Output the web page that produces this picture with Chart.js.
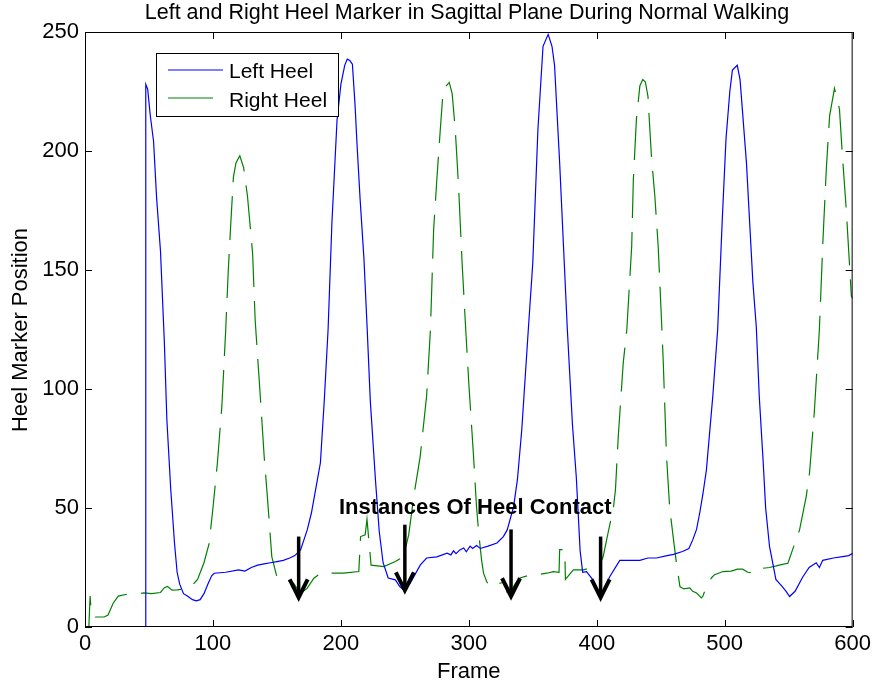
<!DOCTYPE html>
<html>
<head>
<meta charset="utf-8">
<title>Heel Marker</title>
<script src="https://cdn.jsdelivr.net/npm/chart.js@4.4.1/dist/chart.umd.min.js"></script>
<style>
  body { margin: 0; background: #fff; }
  #wrap { width: 875px; height: 687px; }
</style>
</head>
<body>
<div id="wrap"><canvas id="heelChart" width="875" height="687"></canvas></div>
<script>
// Heel marker data (frame, position)
const leftFrames = [0, 47, 47.5, 49, 51, 53.6, 56, 59, 62, 64, 67, 70, 72, 74, 77, 80, 84, 87, 90, 93, 96, 99, 101, 110, 120, 125, 130, 135, 140, 145, 150, 155, 160, 164, 168.5, 173.7, 177, 180, 184, 187, 190, 193, 197, 200, 203, 205, 207, 209, 211, 212.7, 215, 218, 220.5, 223, 227, 230, 233, 237, 242.6, 246, 249, 251, 255.6, 262, 267, 275, 283, 286, 288, 290, 293, 296, 298, 301, 303, 306, 309, 315, 322, 327, 330, 335, 338, 341.4, 346.5, 350, 354, 358, 362, 365, 367, 371, 374, 377, 381, 384, 387, 389, 392, 397, 402.5, 405, 410, 418, 425, 433.7, 440, 446.7, 455, 460, 467, 472, 475, 478, 480.5, 483, 485.7, 490.7, 494.5, 498, 501, 504, 506, 509.8, 512, 514, 517, 519.5, 522, 524.7, 527, 530, 532, 535, 540, 545, 548, 550.7, 555, 561, 566, 571.5, 574, 576.6, 585, 592, 597, 600];
const leftHeel = [0, 0, 228, 226, 215, 204, 180, 158, 120, 87, 58, 35, 23, 18, 14, 13, 11.5, 11, 11.5, 14, 18, 21.5, 22.6, 23, 24, 23.5, 25, 26, 26.5, 27, 27.5, 28, 29, 30, 32.4, 40.8, 48, 57, 69, 95, 125, 170, 213, 228, 236, 238.6, 238, 236.5, 220, 202, 180, 155, 126, 95, 62, 40, 27, 20.6, 19.8, 17, 15.6, 15.6, 19.8, 26, 29, 29.5, 31, 30.3, 32, 30.8, 32.4, 33.2, 31.6, 34, 33, 34.2, 33, 34, 35.3, 38, 40.8, 50.6, 62, 83, 125, 153, 209, 244, 249, 244, 236, 195, 160, 125, 85, 63, 32, 23, 23.3, 19.8, 12.8, 15, 21, 28, 28, 28, 29, 29, 30, 30.5, 31.7, 33, 36.6, 41, 48, 56, 66, 97, 125, 170, 205, 225, 234, 236, 230, 216, 195, 170, 145, 126, 97, 70, 50, 34, 20, 17, 15, 12.8, 15, 21, 25, 27, 25, 28, 29, 29.6, 30, 31];

const rightFrames = [0, 3, 4, 5, 8, 15, 18, 22, 26, 33, 40, 46, 52, 59, 62, 64.5, 68, 72, 78, 84, 88, 93, 97, 100, 103.5, 107, 110, 112, 114, 116, 118, 121, 124, 127, 131, 133, 137, 140, 142.5, 146, 150, 153, 158, 163, 168.5, 173.7, 178.9, 184, 202, 214, 215.4, 219, 220.4, 223.6, 233.5, 242.6, 249, 253, 257, 262, 267, 270, 272.5, 275, 277.7, 280, 284.7, 287, 289.4, 292, 294.6, 297, 299.8, 303.7, 306, 308, 310, 311.5, 314, 316.7, 320, 324.5, 328, 330, 333, 336, 340, 348, 353, 361, 366, 370.5, 371, 375, 375.5, 381.7, 389.5, 394.7, 400, 403.8, 405, 409, 413, 414.6, 416.8, 420.7, 423.5, 427.3, 428.6, 431, 433.7, 436, 438, 440, 442.7, 445.4, 448, 450.6, 452, 454.5, 457, 459.7, 462, 465, 468, 472.7, 475, 478, 481.8, 483, 485.7, 489.6, 492, 498.7, 505, 510, 514, 518, 524.7, 528, 530, 535, 540.4, 545, 549.4, 553, 558.5, 563.7, 566.3, 570, 574, 576.7, 579.4, 582, 585.8, 589.7, 592, 595, 599, 600];
const rightHeel = [0, 0, 13, 5, 4.2, 4.2, 5, 10, 13, 13.8, 14, 14.3, 14, 14.5, 16.5, 17, 15.5, 15.6, 16, 17.7, 20, 27, 35, 50, 69, 93, 125, 150, 170, 189, 195, 198, 193, 181, 157, 129, 97, 72, 55, 29.6, 21, 19.8, 19.5, 18.4, 14, 16.3, 20.5, 22.6, 22.6, 23.3, 38, 38.7, 45.3, 26, 25.4, 27.5, 29.6, 38.7, 55, 71.7, 97, 125, 167, 188, 209, 226, 228.8, 224, 209, 185, 154.5, 130.6, 104, 71.7, 50.6, 38, 28, 22.6, 19, 17, 18, 18.4, 19, 14.5, 15, 18, 20.6, 21.9, 21.9, 22.6, 23.3, 23, 32.5, 32.5, 20, 24, 24, 24.8, 26, 28, 29.6, 40, 50, 57.6, 80, 111, 125, 160, 188, 213.4, 227.4, 230, 229, 223, 198, 181, 160, 129, 111, 72, 50, 38, 28, 17, 16, 16.4, 15, 14.3, 12.2, 13, 17, 20.6, 22, 23.3, 23.5, 24.3, 24.3, 23, 22.6, 24, 24.7, 25, 25.7, 26.3, 26.8, 32.4, 40.8, 54.8, 64.7, 90, 125, 161.5, 192.3, 214.8, 226.3, 217.6, 198, 175.5, 139, 138];

const xTicks = [0, 100, 200, 300, 400, 500, 600];
const yTicks = [0, 50, 100, 150, 200, 250];

// heel contact arrows: frame, tail value, tip value
const contactFrames = [167, 250, 333, 403];
const contactTail = [38, 43, 41, 38];
const contactTip = [12, 15, 12.5, 12];

const FONT = '"Liberation Sans", Arial, Helvetica, sans-serif';

function toPoints(xs, ys) {
    return xs.map(function (x, i) { return { x: x, y: ys[i] }; });
}

// draws the matlab-ish box, inward ticks, texts, legend and arrows
const matlabDecor = {
    id: 'matlabDecor',
    afterDraw: function (chart) {
        const ctx = chart.ctx;
        const area = chart.chartArea;
        const xs = chart.scales.x;
        const ys = chart.scales.y;
        ctx.save();

        // box
        ctx.strokeStyle = '#000';
        ctx.lineWidth = 1;
        ctx.strokeRect(area.left + 0.5, area.top + 0.5, area.right - area.left - 1, area.bottom - area.top - 1);

        // inward ticks on all four sides
        const tl = 7;
        ctx.beginPath();
        xTicks.forEach(function (v) {
            const px = Math.round(xs.getPixelForValue(v)) + 0.5;
            ctx.moveTo(px, area.bottom); ctx.lineTo(px, area.bottom - tl);
            ctx.moveTo(px, area.top); ctx.lineTo(px, area.top + tl);
        });
        yTicks.forEach(function (v) {
            const py = Math.round(ys.getPixelForValue(v)) + 0.5;
            ctx.moveTo(area.left, py); ctx.lineTo(area.left + tl, py);
            ctx.moveTo(area.right, py); ctx.lineTo(area.right - tl, py);
        });
        ctx.stroke();

        // title and axis titles
        ctx.fillStyle = '#000';
        ctx.textAlign = 'center';
        ctx.textBaseline = 'middle';
        ctx.font = '21.5px ' + FONT;
        ctx.fillText('Left and Right Heel Marker in Sagittal Plane During Normal Walking', 467, 13);
        ctx.font = '22px ' + FONT;
        ctx.fillText('Frame', (area.left + area.right) / 2, 672);
        ctx.save();
        ctx.translate(21, 330);
        ctx.rotate(-Math.PI / 2);
        ctx.fillText('Heel Marker Position', 0, 0);
        ctx.restore();

        // annotation
        ctx.font = 'bold 22px ' + FONT;
        ctx.fillText('Instances Of Heel Contact', xs.getPixelForValue(305), ys.getPixelForValue(50));

        // arrows
        ctx.strokeStyle = '#000';
        ctx.lineWidth = 3.5;
        ctx.lineCap = 'butt';
        contactFrames.forEach(function (f, i) {
            const px = xs.getPixelForValue(f);
            const top = ys.getPixelForValue(contactTail[i]);
            const tip = ys.getPixelForValue(contactTip[i]);
            ctx.beginPath();
            ctx.moveTo(px, top);
            ctx.lineTo(px, tip - 2);
            ctx.stroke();
            ctx.lineWidth = 4;
            ctx.beginPath();
            ctx.moveTo(px - 9, tip - 19);
            ctx.lineTo(px, tip - 1);
            ctx.lineTo(px + 9, tip - 19);
            ctx.stroke();
            ctx.lineWidth = 3.5;
        });

        // legend
        ctx.lineWidth = 1;
        ctx.fillStyle = '#fff';
        ctx.fillRect(156, 53, 183, 64);
        ctx.strokeStyle = '#000';
        ctx.strokeRect(156.5, 53.5, 182, 63);
        ctx.lineWidth = 1.2;
        ctx.strokeStyle = '#0000ff';
        ctx.beginPath(); ctx.moveTo(168, 70); ctx.lineTo(223, 70); ctx.stroke();
        ctx.strokeStyle = '#008000';
        ctx.setLineDash([45, 14]);
        ctx.beginPath(); ctx.moveTo(168, 98); ctx.lineTo(223, 98); ctx.stroke();
        ctx.setLineDash([]);
        ctx.fillStyle = '#000';
        ctx.textAlign = 'left';
        ctx.font = '21px ' + FONT;
        ctx.fillText('Left Heel', 229, 72);
        ctx.fillText('Right Heel', 229, 101);

        ctx.restore();
    }
};

window.onload = function () {
    const ctxHeel = document.getElementById('heelChart').getContext('2d');
    const heelChart = new Chart(ctxHeel, {
        type: 'line',
        data: {
            datasets: [
                {
                    label: 'Left Heel',
                    data: toPoints(leftFrames, leftHeel),
                    borderColor: '#0000ff',
                    borderWidth: 1.2,
                    pointRadius: 0,
                    tension: 0,
                    fill: false
                },
                {
                    label: 'Right Heel',
                    data: toPoints(rightFrames, rightHeel),
                    borderColor: '#008000',
                    borderWidth: 1.2,
                    borderDash: [44, 14],
                    pointRadius: 0,
                    tension: 0,
                    fill: false
                }
            ]
        },
        options: {
            responsive: false,
            animation: false,
            layout: {
                padding: { top: 32, right: 21, left: 0, bottom: 0 }
            },
            plugins: {
                legend: { display: false },
                title: { display: false },
                tooltip: { enabled: false }
            },
            scales: {
                x: {
                    type: 'linear',
                    min: 0,
                    max: 600,
                    afterBuildTicks: function (axis) {
                        axis.ticks = xTicks.map(function (v) { return { value: v }; });
                    },
                    afterFit: function (axis) { axis.height = 60; },
                    grid: { display: false, drawTicks: false },
                    border: { display: false },
                    ticks: {
                        color: '#000',
                        padding: 4,
                        maxRotation: 0,
                        font: { size: 22, family: FONT }
                    }
                },
                y: {
                    type: 'linear',
                    min: 0,
                    max: 250,
                    afterBuildTicks: function (axis) {
                        axis.ticks = yTicks.map(function (v) { return { value: v }; });
                    },
                    afterFit: function (axis) { axis.width = 85; },
                    grid: { display: false, drawTicks: false },
                    border: { display: false },
                    ticks: {
                        color: '#000',
                        padding: 6,
                        font: { size: 22, family: FONT }
                    }
                }
            }
        },
        plugins: [matlabDecor]
    });
};
</script>
</body>
</html>
